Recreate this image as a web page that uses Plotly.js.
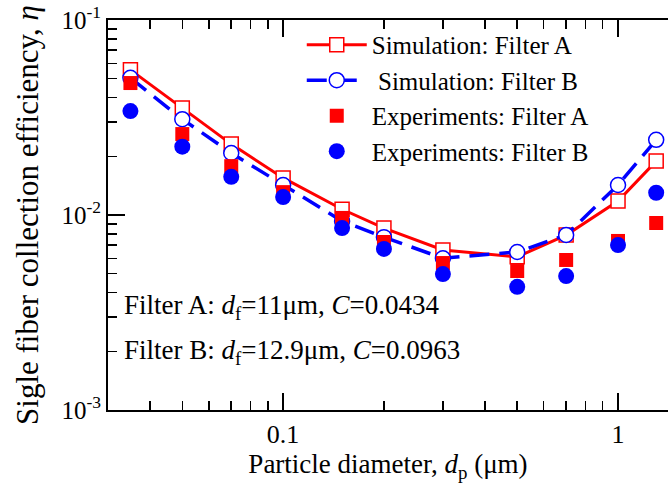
<!DOCTYPE html>
<html>
<head>
<meta charset="utf-8">
<script src="https://cdn.plot.ly/plotly-3.0.1.min.js"></script>
<style>html,body{margin:0;padding:0;background:#fff;}#chart{width:668px;height:486px;}</style>
</head>
<body>
<div id="chart"></div>
<script>
const diameters = [0.035, 0.05, 0.07, 0.1, 0.15, 0.2, 0.3, 0.5, 0.7, 1.0, 1.3];
const simA = [0.0555, 0.0354, 0.0231, 0.0155, 0.0107, 0.00857, 0.00662, 0.0061, 0.00789, 0.0118, 0.0189];
const simB = [0.0505, 0.031, 0.0208, 0.01425, 0.0093, 0.0077, 0.0060, 0.00646, 0.0079, 0.01425, 0.0243];
const expA = [0.0475, 0.026, 0.0178, 0.0131, 0.00966, 0.00727, 0.00567, 0.00516, 0.00588, 0.00736, 0.0091];
const expB = [0.0341, 0.0224, 0.0157, 0.01236, 0.00857, 0.0067, 0.00498, 0.00428, 0.00486, 0.00701, 0.0130];
const seriesNames = ['Simulation: Filter A', ' Simulation: Filter B', 'Experiments: Filter A', 'Experiments: Filter B'];
const xTickVals = [0.1, 1];
const xTickText = ['0.1', '1'];
const xMinor = [0.04,0.05,0.06,0.07,0.08,0.09,0.2,0.3,0.4,0.5,0.6,0.7,0.8,0.9];
const yTickVals = [0.001, 0.01, 0.1];
const yTickText = ['10<sup>-3</sup>', '10<sup>-2</sup>', '10<sup>-1</sup>'];
const yMinor = [0.002,0.003,0.004,0.005,0.006,0.007,0.008,0.009,0.02,0.03,0.04,0.05,0.06,0.07,0.08,0.09];
const noteA = 'Filter A: <i>d</i><sub>f</sub>=11\u03bcm, <i>C</i>=0.0434';
const noteB = 'Filter B: <i>d</i><sub>f</sub>=12.9\u03bcm, <i>C</i>=0.0963';

const FONT = 'Liberation Serif, Times New Roman, serif';
const RED = '#ff0000', BLUE = '#0000ff';

const traces = [
  {x: diameters, y: simA, name: seriesNames[0], mode: 'lines+markers', type: 'scatter',
   line: {color: RED, width: 3},
   marker: {symbol: 'square', size: 14, color: '#ffffff', line: {color: RED, width: 1.5}}},
  {x: diameters, y: simB, name: seriesNames[1], mode: 'lines+markers', type: 'scatter',
   line: {color: BLUE, width: 3.5, dash: '20px,10px'},
   marker: {symbol: 'circle', size: 15, color: '#ffffff', line: {color: BLUE, width: 1.5}}},
  {x: diameters, y: expA, name: seriesNames[2], mode: 'markers', type: 'scatter',
   marker: {symbol: 'square', size: 14, color: RED}},
  {x: diameters, y: expB, name: seriesNames[3], mode: 'markers', type: 'scatter',
   marker: {symbol: 'circle', size: 16, color: BLUE}}
];

const layout = {
  width: 668, height: 486,
  margin: {l: 108, r: 0, t: 20, b: 76},
  paper_bgcolor: '#ffffff', plot_bgcolor: '#ffffff',
  font: {family: FONT, color: '#000', size: 26},
  showlegend: true,
  legend: {x: 0.346, y: 0.995, xanchor: 'left', yanchor: 'top', bgcolor: 'rgba(0,0,0,0)',
           font: {family: FONT, size: 25, color: '#000'}, itemwidth: 60, tracegroupgap: 0},
  xaxis: {type: 'log', range: [Math.log10(0.0300), Math.log10(1.41)],
          showline: true, linecolor: '#000', linewidth: 2, mirror: 'allticks',
          ticks: 'inside', ticklen: 17, tickwidth: 2, tickcolor: '#000',
          tickvals: xTickVals, ticktext: xTickText,
          tickfont: {family: FONT, size: 26, color: '#000'},
          minor: {tickvals: xMinor, ticks: 'inside', ticklen: 9, tickwidth: 1.5, tickcolor: '#000', showgrid: false},
          showgrid: false, zeroline: false,
          title: {text: 'Particle diameter, <i>d</i><sub>p</sub> (\u03bcm)', font: {family: FONT, size: 27, color: '#000'}, standoff: 0}},
  yaxis: {type: 'log', range: [-3, -1],
          showline: true, linecolor: '#000', linewidth: 2, mirror: false,
          ticks: 'inside', ticklen: 17, tickwidth: 2, tickcolor: '#000',
          tickvals: yTickVals, ticktext: yTickText,
          tickfont: {family: FONT, size: 25, color: '#000'},
          minor: {tickvals: yMinor, ticks: 'inside', ticklen: 9, tickwidth: 1.5, tickcolor: '#000', showgrid: false},
          showgrid: false, zeroline: false,
          title: {text: 'Sigle fiber collection efficiency, <i>\u03b7</i>', font: {family: FONT, size: 31, color: '#000'}, standoff: 14}},
  annotations: [
    {xref: 'paper', yref: 'paper', x: 0.025, y: 0.264, xanchor: 'left', yanchor: 'middle', showarrow: false,
     text: noteA, font: {family: FONT, size: 27, color: '#000'}},
    {xref: 'paper', yref: 'paper', x: 0.025, y: 0.149, xanchor: 'left', yanchor: 'middle', showarrow: false,
     text: noteB, font: {family: FONT, size: 27, color: '#000'}}
  ]
};

Plotly.newPlot('chart', traces, layout, {staticPlot: true, displayModeBar: false});
</script>
</body>
</html>
